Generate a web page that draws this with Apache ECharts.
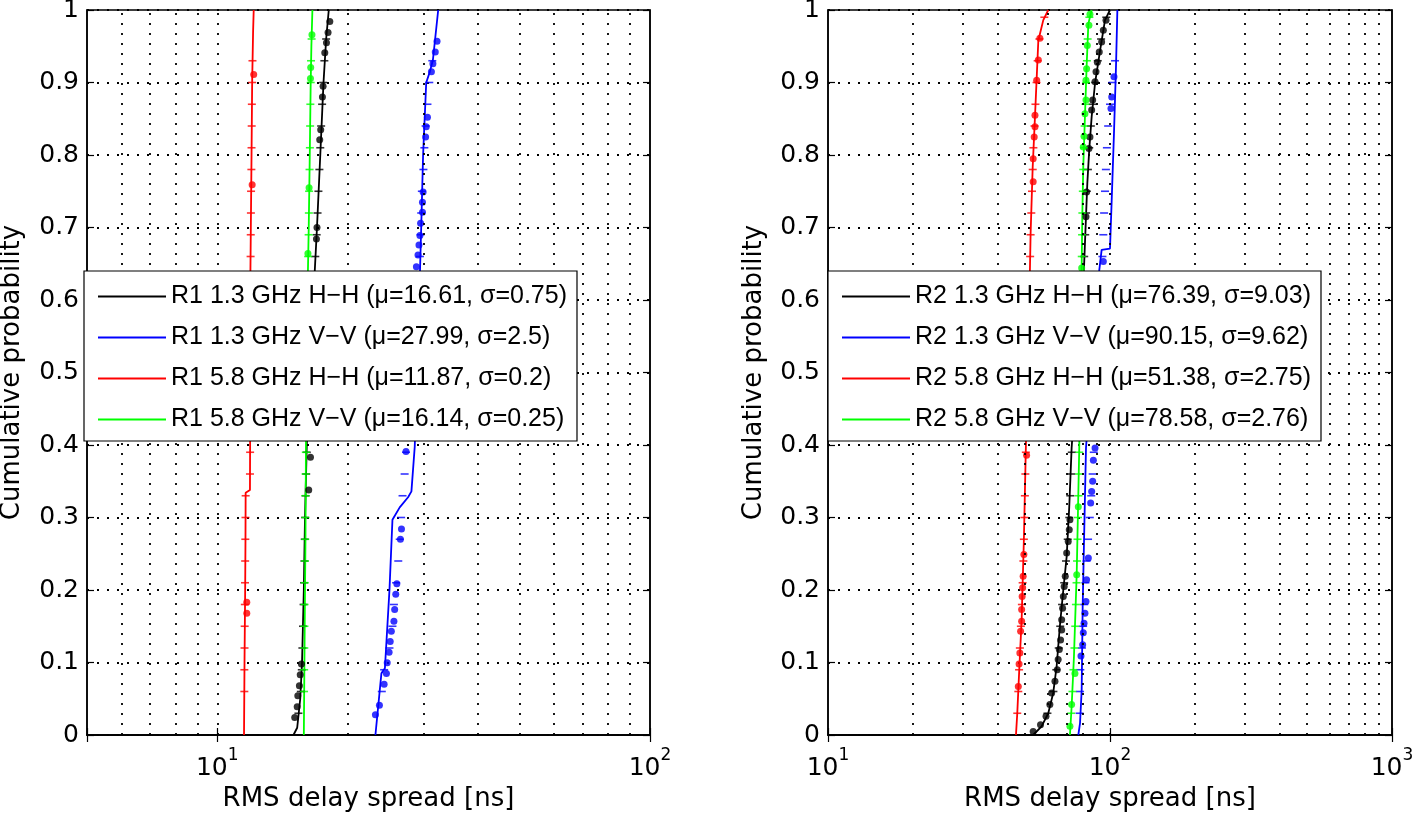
<!DOCTYPE html>
<html><head><meta charset="utf-8">
<script src="https://cdn.jsdelivr.net/npm/echarts@6/dist/echarts.min.js"></script>
<style>html,body{margin:0;padding:0;background:#fff}#c{width:1413px;height:816px}</style>
</head><body><div id="c"></div>
<script>
// ---------- labels ----------
const R1_LABELS = ['R1 1.3 GHz H\u2212H (\u03bc=16.61, \u03c3=0.75)', 'R1 1.3 GHz V\u2212V (\u03bc=27.99, \u03c3=2.5)', 'R1 5.8 GHz H\u2212H (\u03bc=11.87, \u03c3=0.2)', 'R1 5.8 GHz V\u2212V (\u03bc=16.14, \u03c3=0.25)'];
const R2_LABELS = ['R2 1.3 GHz H\u2212H (\u03bc=76.39, \u03c3=9.03)', 'R2 1.3 GHz V\u2212V (\u03bc=90.15, \u03c3=9.62)', 'R2 5.8 GHz H\u2212H (\u03bc=51.38, \u03c3=2.75)', 'R2 5.8 GHz V\u2212V (\u03bc=78.58, \u03c3=2.76)'];
const COLORS = ['#000000', '#0000ff', '#ff0000', '#00ff00'];
const X_NAME = 'RMS delay spread [ns]';
const Y_NAME = 'Cumulative probability';
const Y_TICKS = [0, 0.1, 0.2, 0.3, 0.4, 0.5, 0.6, 0.7, 0.8, 0.9, 1];
const R1_GRID_X = [6, 7, 8, 9, 10, 20, 30, 40, 50, 60, 70, 80, 90];
const R2_GRID_X = [20, 30, 40, 50, 60, 70, 80, 90, 100, 200, 300, 400, 500, 600, 700, 800, 900];
// probabilities at which the '+' markers sit
const P = [0.03,0.06,0.09,0.12,0.15,0.18,0.21,0.24,0.27,0.30,0.33,0.36,0.39,0.42,0.45,0.48,0.51,0.54,0.57,0.60,0.63,0.66,0.69,0.72,0.75,0.78,0.81,0.84,0.87,0.90,0.93,0.96,0.99];

// ---------- R1 (left) ----------
const r1_hh13_line = [[15.0,0],[15.3,0.01],[15.55,0.05],[15.7,0.1],[15.85,0.2],[15.95,0.3],[16.1,0.4],[16.8,0.64],[17.0,0.7],[17.3,0.8],[17.6,0.9],[17.85,0.96],[18.1,1]];
const r1_vv13_line = [[23.2,0],[23.95,0.085],[24.4,0.092],[25.0,0.2],[25.4,0.297],[26.4,0.314],[27.6,0.328],[28.1,0.336],[28.6,0.398],[29.4,0.637],[29.6,0.7],[29.9,0.8],[30.4,0.9],[31.0,0.915],[31.5,0.931],[32.4,1]];
const r1_hh58_line = [[11.53,0],[11.56,0.1],[11.6,0.2],[11.62,0.27],[11.63,0.334],[11.9,0.338],[11.91,0.4],[11.93,0.64],[12.0,0.8],[12.04,0.9],[12.1,0.97],[12.14,1]];
const r1_vv58_line = [[15.85,0],[15.9,0.1],[15.95,0.2],[15.99,0.27],[16.03,0.4],[16.2,0.64],[16.27,0.7],[16.36,0.8],[16.44,0.9],[16.5,0.95],[16.59,1]];

const r1_hh13_dots = [[15.1,0.024],[15.3,0.039],[15.35,0.054],[15.48,0.068],[15.55,0.083],[15.65,0.098],[16.27,0.338],[16.42,0.383],[16.95,0.684],[17.0,0.70],[17.25,0.821],[17.34,0.835],[17.5,0.88],[17.56,0.895],[17.72,0.941],[17.88,0.955],[18.03,0.969],[18.2,0.984]];
const r1_vv13_dots = [[23.2,0.028],[23.7,0.041],[24.3,0.070],[24.6,0.085],[24.7,0.0996],[24.95,0.114],[25.1,0.129],[25.25,0.143],[25.6,0.157],[25.7,0.173],[25.85,0.194],[26.0,0.2085],[26.5,0.270],[26.65,0.284],[27.3,0.391],[28.85,0.646],[29.1,0.662],[29.25,0.676],[29.4,0.689],[29.5,0.706],[29.8,0.721],[29.8,0.735],[29.9,0.749],[30.3,0.825],[30.4,0.839],[30.6,0.852],[31.25,0.915],[31.5,0.926],[31.9,0.942],[32.2,0.957]];
const r1_hh58_dots = [[11.7,0.168],[11.7,0.183],[12.04,0.759],[12.14,0.911]];
const r1_vv58_dots = [[16.2,0.664],[16.3,0.755],[16.42,0.9055],[16.44,0.9206],[16.55,0.966]];

const r1_hh13_plus = [15.4,15.6,15.68,15.73,15.78,15.83,15.87,15.9,15.93,15.96,16.0,16.05,16.1,16.15,16.25,16.35,16.45,16.55,16.62,16.7,16.78,16.85,16.97,17.05,17.13,17.22,17.3,17.38,17.47,17.57,17.68,17.85,null];
const r1_vv13_plus = [null,24.0,24.3,25.0,25.4,25.6,25.9,26.2,26.4,26.6,26.8,27.1,27.3,27.5,27.8,28.0,28.3,28.5,28.8,29.0,29.2,29.4,29.5,29.6,29.7,29.95,30.1,30.3,30.6,30.9,31.4,null,null];
const r1_hh58_plus = [null,11.55,11.55,11.56,11.57,11.58,11.59,11.6,11.61,11.62,11.63,11.9,11.91,11.91,11.91,11.92,11.92,11.92,11.93,11.93,11.93,11.94,11.95,11.96,11.97,11.99,12.0,12.01,12.02,12.04,12.06,null,null];
const r1_vv58_plus = [null,15.87,15.88,15.89,15.9,15.91,15.93,15.95,15.97,15.98,15.99,16.0,16.02,16.04,16.06,16.08,16.1,16.12,16.15,16.18,16.2,16.22,16.26,16.28,16.3,16.34,16.37,16.39,16.41,16.44,16.47,16.52,null];

// ---------- R2 (right) ----------
const r2_hh13_line = [[53.4,0],[57.2,0.012],[60.4,0.03],[62.9,0.058],[64.7,0.095],[66.4,0.15],[68.3,0.2],[70.2,0.246],[71.7,0.315],[73.1,0.396],[80.9,0.646],[82.2,0.715],[83.1,0.761],[84.4,0.807],[86.1,0.853],[88.5,0.899],[92.2,0.944],[96.0,0.986],[100,1]];
const r2_vv13_line = [[77.2,0],[78.3,0.0165],[79.35,0.062],[80.0,0.177],[80.9,0.269],[82.2,0.396],[91.6,0.641],[93.4,0.669],[100,0.671],[101.4,0.738],[103.3,0.83],[105,0.921],[106.2,1]];
const r2_hh58_line = [[46.4,0],[46.9,0.03],[47.6,0.085],[48.6,0.159],[49.5,0.269],[50.3,0.396],[52.0,0.641],[52.3,0.692],[53.2,0.784],[54.2,0.853],[55.7,0.958],[58.0,0.986],[60.4,1]];
const r2_vv58_line = [[72.1,0],[73.1,0.039],[74.5,0.108],[76.2,0.223],[77.8,0.396],[79.35,0.646],[79.75,0.715],[80.4,0.784],[81.5,0.853],[82.6,0.921],[83.8,0.981],[86.1,1]];

const r2_hh13_dots = [[53.4,0.005],[56.7,0.014],[59.3,0.026],[61.2,0.042],[62.1,0.058],[63.8,0.074],[65.0,0.09],[65.5,0.104],[66.1,0.118],[66.8,0.131],[67.4,0.145],[67.4,0.159],[67.9,0.175],[68.3,0.191],[68.8,0.205],[69.4,0.219],[70.2,0.251],[71.1,0.267],[71.7,0.283],[72.1,0.297],[82.2,0.715],[82.6,0.749],[84.2,0.809],[84.9,0.825],[86.1,0.862],[86.8,0.876],[88.5,0.901],[89.2,0.915],[90.2,0.928],[91.6,0.942],[93.4,0.956],[94.7,0.972],[96.8,0.986]];
const r2_vv13_dots = [[78.9,0.109],[80.0,0.1245],[80.4,0.141],[80.9,0.154],[81.5,0.168],[82.2,0.184],[82.6,0.214],[83.8,0.244],[85.4,0.32],[86.1,0.336],[86.8,0.35],[87.3,0.379],[88.5,0.396],[94.7,0.653],[100.8,0.864],[101.4,0.88],[103.3,0.908]];
const r2_hh58_dots = [[47.3,0.067],[47.6,0.098],[47.9,0.113],[48.2,0.143],[48.6,0.157],[48.6,0.173],[48.8,0.191],[49.0,0.203],[49.2,0.219],[49.5,0.249],[50.6,0.386],[53.4,0.763],[53.4,0.795],[53.85,0.825],[54.2,0.839],[54.2,0.855],[54.95,0.903],[55.7,0.931],[56.4,0.961]];
const r2_vv58_dots = [[72.1,0.012],[73.1,0.042],[75.1,0.085],[76.2,0.221],[77.2,0.315],[79.35,0.644],[80.4,0.811],[80.9,0.826],[81.5,0.857],[82.2,0.876],[82.2,0.903],[82.6,0.919],[83.1,0.951],[84.2,0.979],[84.9,0.994]];

const r2_hh13_plus = [60.0,63.0,64.5,65.8,66.6,67.6,68.8,69.8,70.8,71.7,72.3,72.8,73.2,73.8,74.5,75.3,76.1,76.9,77.7,78.6,79.5,81.0,81.7,82.3,82.8,83.5,84.4,85.5,86.8,88.6,90.5,93.0,97.0];
const r2_vv13_plus = [78.0,78.3,78.5,79.5,80.3,81.0,81.8,82.6,83.6,84.8,85.8,86.8,87.6,88.3,89.0,89.7,90.3,91.0,91.7,92.5,93.3,94.0,94.7,95.3,96.0,96.7,97.5,98.5,100,102,104.2,null,null];
const r2_hh58_plus = [46.9,47.3,47.6,47.9,48.3,48.7,49.0,49.3,49.5,49.7,49.9,50.1,50.3,50.5,50.7,50.9,51.1,51.3,51.5,51.7,51.9,52.1,52.3,52.6,52.9,53.2,53.5,54.0,54.4,54.9,55.4,56.2,58.5];
const r2_vv58_plus = [72.8,73.6,74.2,74.8,75.3,75.7,76.1,76.4,76.7,77.0,77.3,77.6,77.8,78.0,78.2,78.4,78.6,78.8,79.0,79.1,79.3,79.4,79.6,79.8,80.1,80.4,80.8,81.3,81.8,82.3,82.8,83.3,84.5];

// ---------- build ----------
const LEG_FONT = 'Liberation Sans';
const AX_FONT = 'DejaVu Sans';
const chart = echarts.init(document.getElementById('c'), null, {renderer: 'canvas'});

function isPow10(v) { const l = Math.log10(v); return Math.abs(l - Math.round(l)) < 1e-6; }
const dotted = {color: '#000', width: 1.8, type: [2, 8]};

function xAxes(gi, min, max) {
  return [
    {type: 'log', logBase: 10, gridIndex: gi, min: min, max: max, position: 'bottom',
     name: X_NAME, nameLocation: 'middle', nameGap: 33,
     nameTextStyle: {fontFamily: AX_FONT, fontSize: 26, color: '#000'},
     axisLine: {show: true, lineStyle: {color: '#000', width: 1.5}},
     axisTick: {show: true, inside: true, length: 7, lineStyle: {color: '#000', width: 1.2}},
     splitLine: {show: false},
     axisLabel: {show: true, margin: 12, showMinLabel: true, showMaxLabel: true, hideOverlap: false,
       formatter: v => isPow10(v) ? '{b|10}{s|' + Math.round(Math.log10(v)) + '}' : '',
       rich: {b: {fontFamily: AX_FONT, fontSize: 25, color: '#000', lineHeight: 34, verticalAlign: 'bottom'},
              s: {fontFamily: AX_FONT, fontSize: 17, color: '#000', lineHeight: 18, verticalAlign: 'top'}}}},
    {type: 'log', logBase: 10, gridIndex: gi, min: min, max: max, position: 'top',
     axisLine: {show: true, lineStyle: {color: '#000', width: 1.5}},
     axisTick: {show: true, inside: true, length: 7, lineStyle: {color: '#000', width: 1.2}},
     axisLabel: {show: false}, splitLine: {show: false}}
  ];
}
function yAxes(gi, nameGap) {
  return [
    {type: 'value', gridIndex: gi, min: Y_TICKS[0], max: Y_TICKS[Y_TICKS.length - 1], interval: 0.1, position: 'left',
     name: Y_NAME, nameLocation: 'middle', nameGap: nameGap, nameRotate: 90,
     nameTextStyle: {fontFamily: AX_FONT, fontSize: 26, color: '#000'},
     axisLine: {show: true, lineStyle: {color: '#000', width: 1.5}},
     axisTick: {show: true, inside: true, length: 7, lineStyle: {color: '#000', width: 1.2}},
     splitLine: {show: true, lineStyle: dotted},
     axisLabel: {margin: 8, fontFamily: AX_FONT, fontSize: 25, color: '#000',
       formatter: v => { const t = Y_TICKS.find(k => Math.abs(k - v) < 1e-9); return t === undefined ? '' : String(t); }}},
    {type: 'value', gridIndex: gi, min: Y_TICKS[0], max: Y_TICKS[Y_TICKS.length - 1], interval: 0.1, position: 'right',
     axisLine: {show: true, lineStyle: {color: '#000', width: 1.5}},
     axisTick: {show: true, inside: true, length: 7, lineStyle: {color: '#000', width: 1.2}},
     axisLabel: {show: false}, splitLine: {show: false}}
  ];
}
function panelSeries(pi, labels, lines, dots, pluses, gridX) {
  const xi = pi * 2, yi = pi * 2;
  const out = [{
    type: 'line', xAxisIndex: xi, yAxisIndex: yi, data: [], silent: true, z: 1,
    markLine: {silent: true, symbol: ['none', 'none'], label: {show: false}, emphasis: {disabled: true},
      lineStyle: dotted, data: gridX.map(v => ({xAxis: v}))}
  }];
  for (let i = 0; i < 4; i++) {
    out.push({name: labels[i], type: 'line', xAxisIndex: xi, yAxisIndex: yi, data: lines[i],
      showSymbol: false, symbol: 'none', z: 3,
      lineStyle: {color: COLORS[i], width: 1.8}, itemStyle: {color: COLORS[i]}});
    out.push({name: labels[i] + ' dots', type: 'scatter', xAxisIndex: xi, yAxisIndex: yi, data: dots[i],
      symbol: 'circle', symbolSize: 7, z: 4, itemStyle: {color: COLORS[i]}});
    const pd = [];
    pluses[i].forEach((x, k) => { if (x !== null) pd.push([x, P[k]]); });
    out.push({name: labels[i] + ' plus', type: 'scatter', xAxisIndex: xi, yAxisIndex: yi, data: pd,
      symbol: 'rect', symbolSize: [8, 1.6], z: 4, itemStyle: {color: COLORS[i]}});
  }
  return out;
}
function legend(left, names) {
  return {orient: 'vertical', left: left, top: 271, data: names, icon: 'rect',
    itemWidth: 68, itemHeight: 2, itemGap: 16, padding: [13, 10, 9, 14],
    backgroundColor: '#fff', borderColor: '#000', borderWidth: 1.2, z: 20, selectedMode: false,
    textStyle: {fontFamily: LEG_FONT, fontSize: 25, color: '#000'}};
}

const option = {
  animation: false,
  backgroundColor: '#fff',
  grid: [
    {left: 87, top: 10, width: 563, height: 725, show: true, borderColor: '#000', borderWidth: 1.5, containLabel: false, outerBoundsMode: 'none'},
    {left: 828, top: 10, width: 564, height: 725, show: true, borderColor: '#000', borderWidth: 1.5, containLabel: false, outerBoundsMode: 'none'}
  ],
  xAxis: [...xAxes(0, 5, 100), ...xAxes(1, 10, 1000)],
  yAxis: [...yAxes(0, 62), ...yAxes(1, 61)],
  legend: [legend(84, R1_LABELS), legend(828, R2_LABELS)],
  series: [
    ...panelSeries(0, R1_LABELS,
      [r1_hh13_line, r1_vv13_line, r1_hh58_line, r1_vv58_line],
      [r1_hh13_dots, r1_vv13_dots, r1_hh58_dots, r1_vv58_dots],
      [r1_hh13_plus, r1_vv13_plus, r1_hh58_plus, r1_vv58_plus], R1_GRID_X),
    ...panelSeries(1, R2_LABELS,
      [r2_hh13_line, r2_vv13_line, r2_hh58_line, r2_vv58_line],
      [r2_hh13_dots, r2_vv13_dots, r2_hh58_dots, r2_vv58_dots],
      [r2_hh13_plus, r2_vv13_plus, r2_hh58_plus, r2_vv58_plus], R2_GRID_X)
  ]
};
chart.setOption(option);
</script>
</body></html>
